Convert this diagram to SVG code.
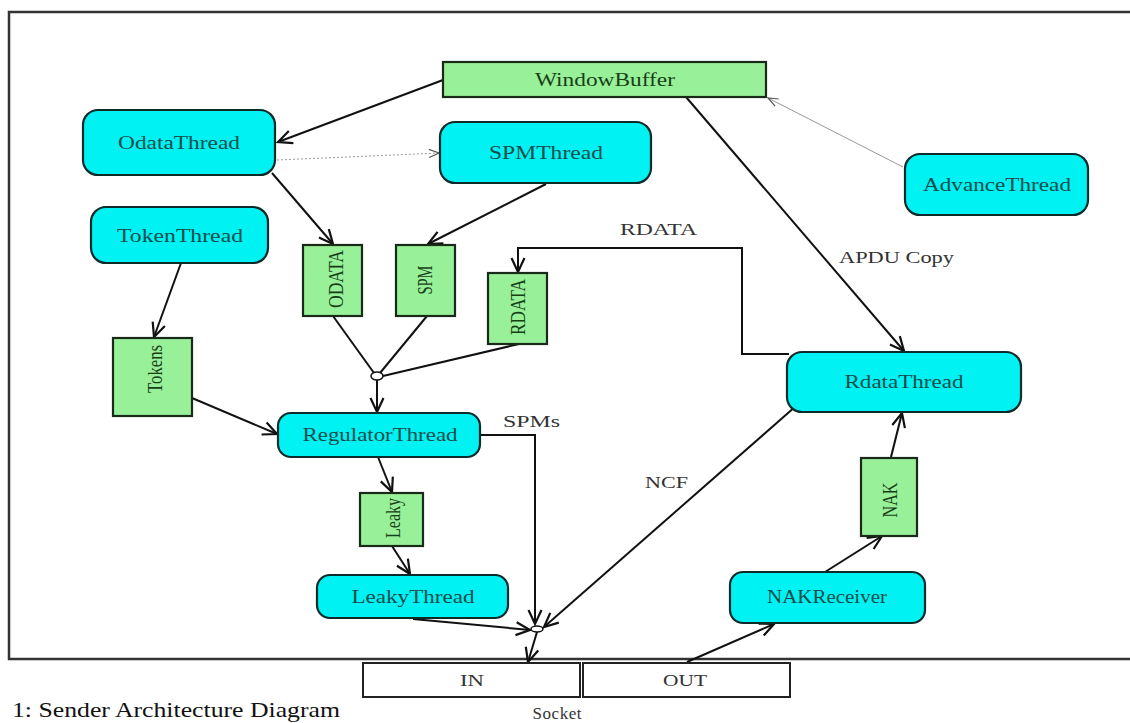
<svg xmlns="http://www.w3.org/2000/svg" width="1130" height="723" viewBox="0 0 1130 723">
<style>
  .thread rect { fill:#00F2F2; stroke:#0d2b2b; stroke-width:2.2; }
  .thread text { font-family:"Liberation Serif","Times New Roman",serif; font-size:19px; fill:#134c4c; text-anchor:middle; }
  .buf rect { fill:#98F098; stroke:#1a2a1a; stroke-width:2.2; }
  .buf text { font-family:"Liberation Serif","Times New Roman",serif; font-size:19px; fill:#173f17; text-anchor:middle; }
  .buf text.v { font-size:22px; }
  .sock rect { fill:#fff; stroke:#222; stroke-width:2; }
  .sock text { font-family:"Liberation Serif","Times New Roman",serif; font-size:17px; fill:#333; text-anchor:middle; }
  .lbl { font-family:"Liberation Serif","Times New Roman",serif; font-size:16px; fill:#333; }
  .cap { font-family:"Liberation Serif","Times New Roman",serif; font-size:22px; fill:#111; }
  .edge { fill:none; stroke:#111; stroke-width:2; }
  .arr { marker-end:url(#vee); }
  .thin { fill:none; stroke:#999; stroke-width:1; marker-end:url(#veeThin); }
  .dot { fill:none; stroke:#999; stroke-width:1; stroke-dasharray:2 2; marker-end:url(#veeThin); }
  .merge { fill:#fff; stroke:#111; stroke-width:1.5; }
</style>
<defs>
  <marker id="vee" markerUnits="userSpaceOnUse" markerWidth="20" markerHeight="16" refX="15" refY="8" orient="auto">
    <path d="M1,1.5 L15,8 L1,14.5" fill="none" stroke="#111" stroke-width="2.2"/>
  </marker>
  <marker id="veeThin" markerUnits="userSpaceOnUse" markerWidth="14" markerHeight="10" refX="11" refY="5" orient="auto">
    <path d="M1,1 L11,5 L1,9" fill="none" stroke="#555" stroke-width="1.2"/>
  </marker>
</defs>
<rect width="1130" height="723" fill="#fff"/>
<rect id="frame" x="9" y="12" width="1130" height="647" fill="none" stroke="#333" stroke-width="2.5"/>

<g id="connectors">
  <path class="edge arr" d="M443,80 L278,142"/>
  <path class="dot" d="M277,160 L439,153"/>
  <path class="edge arr" d="M272,173 L333,244"/>
  <path class="edge arr" d="M546,184 L428,244"/>
  <path class="edge arr" d="M686,97 L904,351"/>
  <path class="thin" d="M903,167 L768,98"/>
  <path class="edge arr" d="M181,263 L154,337"/>
  <path class="edge" d="M333,316 L374,373"/>
  <path class="edge" d="M427,316 L380,373"/>
  <path class="edge" d="M519,344 L383,376"/>
  <path class="edge arr" d="M377,380 L377,412"/>
  <path class="edge arr" d="M192,398 L277,434"/>
  <path class="edge arr" d="M789,354 L742,354 L742,248 L518,248 L518,272"/>
  <path class="edge arr" d="M480,435 L535,435 L535,624"/>
  <path class="edge arr" d="M796,406 L544,627"/>
  <path class="edge arr" d="M378,457 L392,492"/>
  <path class="edge arr" d="M392,546 L410,574"/>
  <path class="edge arr" d="M413,619 L530,630"/>
  <path class="edge arr" d="M537,632 L528,662"/>
  <path class="edge arr" d="M687,662 L774,624"/>
  <path class="edge arr" d="M825,572 L882,536"/>
  <path class="edge arr" d="M891,457 L902,413"/>
  <ellipse class="merge" cx="377" cy="376" rx="6" ry="4"/>
  <ellipse class="merge" cx="537" cy="629" rx="6" ry="3"/>
  <text class="lbl" x="620" y="235" textLength="77" lengthAdjust="spacingAndGlyphs">RDATA</text>
  <text class="lbl" x="839" y="263" textLength="115" lengthAdjust="spacingAndGlyphs">APDU Copy</text>
  <text class="lbl" x="503" y="427" textLength="57" lengthAdjust="spacingAndGlyphs">SPMs</text>
  <text class="lbl" x="645" y="488" textLength="43" lengthAdjust="spacingAndGlyphs">NCF</text>
</g>

<g id="WindowBuffer" class="buf">
  <rect x="443" y="62" width="323" height="35"/>
  <text x="605" y="86" textLength="140" lengthAdjust="spacingAndGlyphs">WindowBuffer</text>
</g>
<g id="OdataThread" class="thread">
  <rect x="83" y="110" width="192" height="65" rx="15"/>
  <text x="179" y="149" textLength="122" lengthAdjust="spacingAndGlyphs">OdataThread</text>
</g>
<g id="SPMThread" class="thread">
  <rect x="440" y="122" width="211" height="61" rx="15"/>
  <text x="546" y="159" textLength="114" lengthAdjust="spacingAndGlyphs">SPMThread</text>
</g>
<g id="AdvanceThread" class="thread">
  <rect x="905" y="154" width="183" height="61" rx="15"/>
  <text x="997" y="191" textLength="148" lengthAdjust="spacingAndGlyphs">AdvanceThread</text>
</g>
<g id="TokenThread" class="thread">
  <rect x="91" y="207" width="177" height="56" rx="15"/>
  <text x="180" y="242" textLength="126" lengthAdjust="spacingAndGlyphs">TokenThread</text>
</g>
<g id="ODATA" class="buf">
  <rect x="303" y="245" width="59" height="71"/>
  <text class="v" transform="translate(343,279) rotate(-90)" textLength="58" lengthAdjust="spacingAndGlyphs">ODATA</text>
</g>
<g id="SPM" class="buf">
  <rect x="396" y="245" width="59" height="71"/>
  <text class="v" transform="translate(432,280) rotate(-90)" textLength="29" lengthAdjust="spacingAndGlyphs">SPM</text>
</g>
<g id="RDATA" class="buf">
  <rect x="488" y="273" width="59" height="71"/>
  <text class="v" transform="translate(525,307) rotate(-90)" textLength="56" lengthAdjust="spacingAndGlyphs">RDATA</text>
</g>
<g id="Tokens" class="buf">
  <rect x="113" y="338" width="79" height="78"/>
  <text class="v" transform="translate(162,369) rotate(-90)" textLength="48" lengthAdjust="spacingAndGlyphs">Tokens</text>
</g>
<g id="RegulatorThread" class="thread">
  <rect x="278" y="413" width="202" height="44" rx="13"/>
  <text x="380" y="441" textLength="155" lengthAdjust="spacingAndGlyphs">RegulatorThread</text>
</g>
<g id="RdataThread" class="thread">
  <rect x="787" y="352" width="234" height="60" rx="15"/>
  <text x="904" y="388" textLength="119" lengthAdjust="spacingAndGlyphs">RdataThread</text>
</g>
<g id="Leaky" class="buf">
  <rect x="360" y="493" width="63" height="53"/>
  <text class="v" transform="translate(400,518) rotate(-90)" textLength="40" lengthAdjust="spacingAndGlyphs">Leaky</text>
</g>
<g id="NAK" class="buf">
  <rect x="861" y="458" width="56" height="78"/>
  <text class="v" transform="translate(897,500) rotate(-90)" textLength="35" lengthAdjust="spacingAndGlyphs">NAK</text>
</g>
<g id="LeakyThread" class="thread">
  <rect x="317" y="575" width="191" height="43" rx="13"/>
  <text x="413" y="603" textLength="123" lengthAdjust="spacingAndGlyphs">LeakyThread</text>
</g>
<g id="NAKReceiver" class="thread">
  <rect x="730" y="572" width="195" height="51" rx="13"/>
  <text x="827" y="603" textLength="120" lengthAdjust="spacingAndGlyphs">NAKReceiver</text>
</g>
<g id="Socket" class="sock">
  <rect x="363" y="663" width="217" height="34"/>
  <rect x="583" y="663" width="207" height="34"/>
  <text x="472" y="686" textLength="24" lengthAdjust="spacingAndGlyphs">IN</text>
  <text x="685" y="686" textLength="44" lengthAdjust="spacingAndGlyphs">OUT</text>
  <text x="557" y="719" textLength="49" lengthAdjust="spacing">Socket</text>
</g>
<text class="cap" x="12" y="717" textLength="328" lengthAdjust="spacingAndGlyphs">1: Sender Architecture Diagram</text>
</svg>
